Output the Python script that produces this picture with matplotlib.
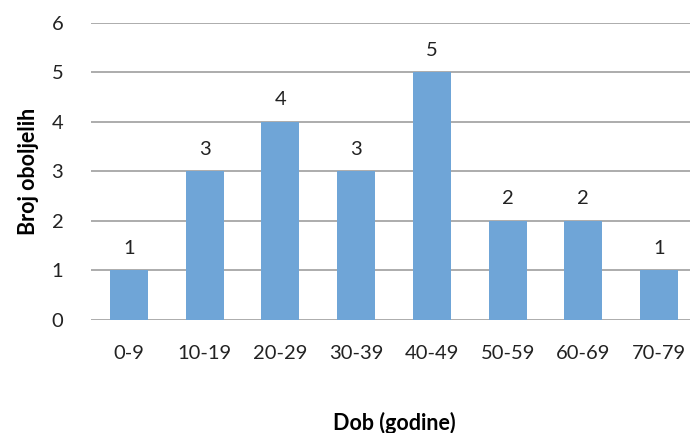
import numpy as np
import matplotlib.pyplot as plt

plt.rcParams['font.family'] = ['Lato', 'DejaVu Sans']

ages = ['0-9', '10-19', '20-29', '30-39', '40-49', '50-59', '60-69', '70-79']
counts = [1, 3, 4, 3, 5, 2, 2, 1]

fig = plt.figure(figsize=(6.9, 4.33), dpi=100)
ax = fig.add_axes([0.132, 0.261, 0.878, 0.686])

x = np.arange(len(ages))
ax.bar(x, counts, width=0.5, color='#6FA5D7', zorder=3)
for xi, c in zip(x, counts):
    ax.text(xi, c + 0.28, str(c), ha='center', va='bottom', fontsize=14.5, color='#222222')

ax.set_xlim(-0.5, len(ages) - 0.5)
ax.set_ylim(0, 6)
ax.set_yticks(range(0, 7))
ax.set_xticks(x)
ax.set_xticklabels(ages)
ax.grid(axis='y', color='#A6A6A6', linewidth=1.3, zorder=0)
for s in ax.spines.values():
    s.set_visible(False)
ax.tick_params(axis='both', length=0, labelsize=14.5, colors='#222222')
ax.tick_params(axis='y', pad=20)
ax.tick_params(axis='x', pad=18)

ax.set_ylabel('Broj oboljelih', fontsize=15.5, fontweight='bold', labelpad=9)
ax.set_xlabel('Dob (godine)', fontsize=15.5, fontweight='bold', labelpad=36)

fig.savefig('out.png', dpi=100)
